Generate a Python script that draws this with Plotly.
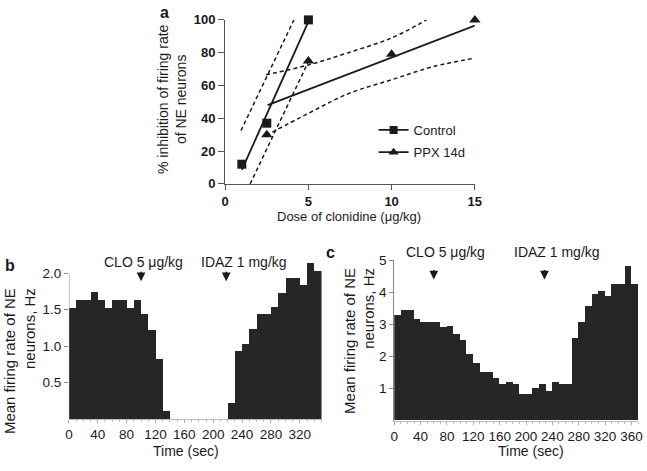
import plotly.graph_objects as go

FONT = "Liberation Sans, Arial, sans-serif"
INK = "#1a1a1a"
BAR_COLOR = "#262626"
W, H = 647, 471

# ---- panel a: dose-response ----
control_dose = [1, 2.5, 5]
control_inhib = [12, 37, 100]
ppx_dose = [2.5, 5, 10, 15]
ppx_inhib = [30, 75, 79, 100]

control_fit_dose = [1, 5]
control_fit = [8.5, 99]
control_ci_hi_dose = [0.95, 4.13]
control_ci_hi = [32.5, 100]
control_ci_lo_dose = [1.5, 5]
control_ci_lo = [0, 74.5]

ppx_fit_dose = [2.55, 15]
ppx_fit = [48, 96.5]
ppx_ci_hi_dose = [2.45, 5, 7.4, 10, 12.1]
ppx_ci_hi = [66.5, 72.5, 80, 89, 100]
ppx_ci_lo_dose = [2.45, 5, 7.4, 10, 12.5, 15]
ppx_ci_lo = [29.5, 43, 55, 63.5, 71.5, 76.7]

# ---- panels b, c: firing rate in 10 s bins ----
BIN = 10
b_rate = [1.52, 1.63, 1.63, 1.74, 1.63, 1.52, 1.63, 1.63, 1.52, 1.63,
          1.43, 1.22, 0.82, 0.11, 0, 0, 0, 0, 0, 0,
          0, 0, 0.22, 0.93, 1.03, 1.23, 1.43, 1.43, 1.53, 1.73,
          1.93, 1.93, 1.84, 2.13, 2.03]
c_rate = [3.27, 3.45, 3.45, 3.17, 3.07, 3.07, 3.07, 2.9, 2.95, 2.68,
          2.5, 2.08, 1.8, 1.52, 1.52, 1.31, 1.12, 1.2, 1.13, 0.83,
          0.83, 1.01, 1.13, 0.93, 1.21, 1.13, 1.13, 2.58, 3.07, 3.55,
          3.94, 4.04, 3.89, 4.25, 4.25, 4.82, 4.24]
b_time = [BIN * i + BIN / 2 for i in range(len(b_rate))]
c_time = [BIN * i + BIN / 2 for i in range(len(c_rate))]
b_ticks = [0, 40, 80, 120, 160, 200, 240, 280, 320]
c_ticks = [0, 40, 80, 120, 160, 200, 240, 280, 320, 360]
b_events = {"CLO 5 μg/kg": 100, "IDAZ 1 mg/kg": 218}
c_events = {"CLO 5 μg/kg": 60, "IDAZ 1 mg/kg": 228}


def px(x):
    return x / W


def py(y):
    return 1 - y / H


fig = go.Figure()

dash = "4px,3px"
for xs, ys in [(control_ci_hi_dose, control_ci_hi), (control_ci_lo_dose, control_ci_lo)]:
    fig.add_trace(go.Scatter(x=xs, y=ys, mode="lines", showlegend=False,
                             line=dict(color=INK, width=1.5, dash=dash)))
for xs, ys in [(ppx_ci_hi_dose, ppx_ci_hi), (ppx_ci_lo_dose, ppx_ci_lo)]:
    fig.add_trace(go.Scatter(x=xs, y=ys, mode="lines", showlegend=False,
                             line=dict(color=INK, width=1.5, dash=dash, shape="spline")))
fig.add_trace(go.Scatter(x=control_fit_dose, y=control_fit, mode="lines", showlegend=False,
                         line=dict(color=INK, width=1.8)))
fig.add_trace(go.Scatter(x=ppx_fit_dose, y=ppx_fit, mode="lines", showlegend=False,
                         line=dict(color=INK, width=1.8)))
fig.add_trace(go.Scatter(x=control_dose, y=control_inhib, mode="markers", showlegend=False,
                         cliponaxis=False,
                         marker=dict(symbol="square", size=9, color=INK)))
fig.add_trace(go.Scatter(x=ppx_dose, y=ppx_inhib, mode="markers", showlegend=False,
                         cliponaxis=False,
                         marker=dict(symbol="triangle-up", size=10, color=INK)))
# legend entries
fig.add_trace(go.Scatter(x=[None], y=[None], mode="lines+markers", name="Control",
                         legend="legend",
                         line=dict(color=INK, width=1.8),
                         marker=dict(symbol="square", size=8, color=INK)))
fig.add_trace(go.Scatter(x=[None], y=[None], mode="lines+markers", name="PPX 14d",
                         legend="legend2",
                         line=dict(color=INK, width=1.8),
                         marker=dict(symbol="triangle-up", size=9, color=INK)))

fig.add_trace(go.Bar(x=b_time, y=b_rate, width=BIN, xaxis="x2", yaxis="y2",
                     marker=dict(color=BAR_COLOR, line=dict(width=0)), showlegend=False))
fig.add_trace(go.Bar(x=c_time, y=c_rate, width=BIN, xaxis="x3", yaxis="y3",
                     marker=dict(color=BAR_COLOR, line=dict(width=0)), showlegend=False))

tick_bold = dict(family=FONT, size=13, color=INK, weight="bold")
tick_reg = dict(family=FONT, size=13.5, color=INK)

fig.update_layout(
    width=W, height=H,
    margin=dict(l=0, r=0, t=0, b=0),
    paper_bgcolor="white", plot_bgcolor="white",
    font=dict(family=FONT, color=INK),
    bargap=0,
    xaxis=dict(domain=[px(225), px(479)], range=[0, 15], tickvals=[0, 5, 10, 15],
               showline=True, linecolor="#555", linewidth=1.2, ticks="outside",
               ticklen=5, tickcolor="#555", tickfont=tick_bold, showgrid=False,
               zeroline=False, anchor="y"),
    yaxis=dict(domain=[py(182.7), py(13.3)], range=[0, 100], tickvals=[0, 20, 40, 60, 80, 100],
               showline=True, linecolor="#555", linewidth=1.2, ticks="outside",
               ticklen=6, tickcolor="#555", tickfont=tick_bold, showgrid=False,
               zeroline=False, anchor="x"),
    xaxis2=dict(domain=[px(66), px(323)], range=[0, 350], tickvals=b_ticks,
                showline=True, linecolor="#bbb", ticks="outside", ticklen=3,
                tickcolor="#aaa", tickfont=tick_reg, showgrid=False, zeroline=False,
                minor=dict(dtick=10, ticks="outside", ticklen=2, tickcolor="#bbb"),
                anchor="y2"),
    yaxis2=dict(domain=[py(425.5), py(263.7)], range=[0, 2.15],
                tickvals=[0.5, 1.0, 1.5, 2.0], ticktext=["0.5", "1.0", "1.5", "2.0"],
                showline=False, ticks="outside", ticklen=4, tickcolor="#888",
                tickfont=tick_reg, showgrid=False, zeroline=False, anchor="x2"),
    xaxis3=dict(domain=[px(397), px(645)], range=[0, 370], tickvals=c_ticks,
                showline=True, linecolor="#bbb", ticks="outside", ticklen=3,
                tickcolor="#aaa", tickfont=tick_reg, showgrid=False, zeroline=False,
                minor=dict(dtick=10, ticks="outside", ticklen=2, tickcolor="#bbb"),
                anchor="y3"),
    yaxis3=dict(domain=[py(427.3), py(261.7)], range=[0, 5], tickvals=[1, 2, 3, 4, 5],
                showline=True, linecolor="#888", ticks="outside", ticklen=4,
                tickcolor="#888", tickfont=tick_reg, showgrid=False, zeroline=False,
                anchor="x3"),
    legend=dict(x=px(376), y=py(127), xanchor="left", yanchor="middle",
                bgcolor="rgba(0,0,0,0)", font=dict(family=FONT, size=13, color=INK)),
    legend2=dict(x=px(376), y=py(150), xanchor="left", yanchor="middle",
                 bgcolor="rgba(0,0,0,0)", font=dict(family=FONT, size=13, color=INK)),
)

# y axis line of panel b stops at 2.0
fig.add_shape(type="line", xref="x2", yref="y2", x0=0, x1=0, y0=0, y1=2.0,
              line=dict(color="#888", width=1))

ann = []
# panel letters
for letter, (x, y) in {"a": (163, 6), "b": (6, 267), "c": (332, 254)}.items():
    ann.append(dict(text=letter, x=px(x), y=py(y), xref="paper", yref="paper",
                    showarrow=False, xanchor="center", yanchor="middle",
                    font=dict(family=FONT, size=16, color=INK, weight="bold")))
# rotated axis titles
ann.append(dict(text="% inhibition of firing rate<br>of NE neurons", x=px(171), y=py(95),
                xref="paper", yref="paper", showarrow=False, textangle=-90,
                xanchor="center", yanchor="middle", align="center",
                font=dict(family=FONT, size=14, color=INK)))
ann.append(dict(text="Mean firing rate of NE<br>neurons, Hz", x=px(16), y=py(366),
                xref="paper", yref="paper", showarrow=False, textangle=-90,
                xanchor="center", yanchor="middle", align="right",
                font=dict(family=FONT, size=15, color=INK)))
ann.append(dict(text="Mean firing rate of NE<br>neurons, Hz", x=px(361), y=py(345),
                xref="paper", yref="paper", showarrow=False, textangle=-90,
                xanchor="center", yanchor="middle", align="right",
                font=dict(family=FONT, size=15, color=INK)))
# x titles
ann.append(dict(text="Dose of clonidine (μg/kg)", x=px(351), y=py(216.5), xref="paper",
                yref="paper", showarrow=False, xanchor="center", yanchor="middle",
                font=dict(family=FONT, size=13, color=INK)))
ann.append(dict(text="Time (sec)", x=px(185), y=py(459), xref="paper",
                yref="paper", showarrow=False, xanchor="center", yanchor="middle",
                font=dict(family=FONT, size=14, color=INK)))
ann.append(dict(text="Time (sec)", x=px(536), y=py(459), xref="paper",
                yref="paper", showarrow=False, xanchor="center", yanchor="middle",
                font=dict(family=FONT, size=14, color=INK)))

# drug injection markers
for events, xr, yr, tip, label_y, offs in [(b_events, "x2", "y2", 1.89, 263, [2, 18]),
                                            (c_events, "x3", "y3", 4.4, 253, [12, 13])]:
    for (label, t), off in zip(events.items(), offs):
        ann.append(dict(text="", x=t, y=tip, xref=xr, yref=yr, showarrow=True,
                        ax=0, ay=-11, arrowhead=2, arrowsize=1.1, arrowwidth=1.6,
                        arrowcolor=INK))
        ann.append(dict(text=label, x=t, y=py(label_y), xref=xr, yref="paper",
                        xshift=off, showarrow=False, xanchor="center", yanchor="middle",
                        font=dict(family=FONT, size=14, color=INK)))

fig.update_layout(annotations=ann)
# the page's default body margin would push the 647x471 figure off the window
fig.write_html("out.html", config={"displayModeBar": False},
               post_script="document.body.style.margin = '0';")
